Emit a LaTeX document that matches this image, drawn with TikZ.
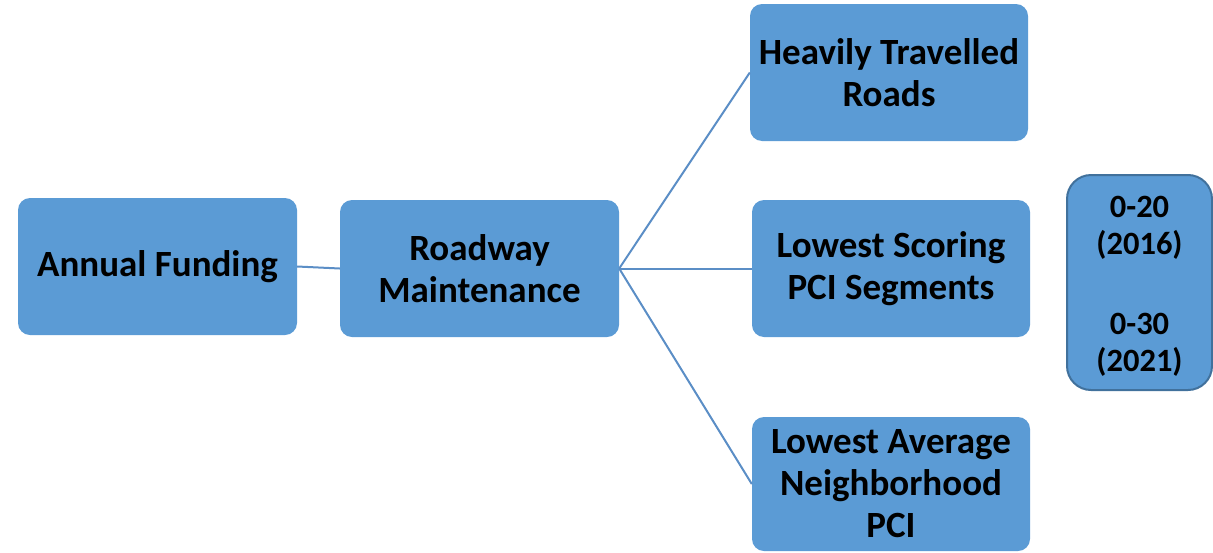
\documentclass[tikz,border=0pt]{standalone}
\usepackage{fontspec}
\setmainfont{Carlito}
\definecolor{boxfill}{HTML}{5B9BD5}
\definecolor{boxedge}{HTML}{41719C}
\definecolor{linkcol}{HTML}{5B8EC6}
\tikzset{
  mainbox/.style={fill=boxfill, draw=none, rounded corners=12pt, minimum width=279pt, minimum height=137pt,
    align=center, inner sep=0pt, font=\bfseries\fontsize{37}{42}\selectfont},
  sidebox/.style={fill=boxfill, draw=boxedge, line width=2pt, rounded corners=24pt, minimum width=145pt, minimum height=215pt,
    align=center, inner sep=0pt, font=\bfseries\fontsize{32.5}{37}\selectfont},
  link/.style={draw=linkcol, line width=2pt}
}
\begin{document}
\begin{tikzpicture}[x=1pt,y=-1pt]
\useasboundingbox (0,0) rectangle (1213,552);
\node[mainbox] (af) at (157.5,266.5) {Annual Funding};
\node[mainbox] (rm) at (479.5,268.5) {Roadway\\Maintenance};
\node[mainbox, minimum width=278pt] (ht) at (889,72.5) {Heavily Travelled\\Roads};
\node[mainbox, minimum width=278pt] (ls) at (891,268.5) {Lowest Scoring\\PCI Segments};
\node[mainbox, minimum width=278pt, minimum height=134pt] (la) at (891,484) {Lowest Average\\Neighborhood\\PCI};
\node[sidebox] (yr) at (1139.5,282.5) {\rule{0pt}{29pt}0-20\\(2016)\\[43pt]0-30\\(2021)};
\draw[link] (af.east) -- (rm.west);
\draw[link] (rm.east) -- (ht.west);
\draw[link] (rm.east) -- (ls.west);
\draw[link] (rm.east) -- (la.west);
\end{tikzpicture}
\end{document}
